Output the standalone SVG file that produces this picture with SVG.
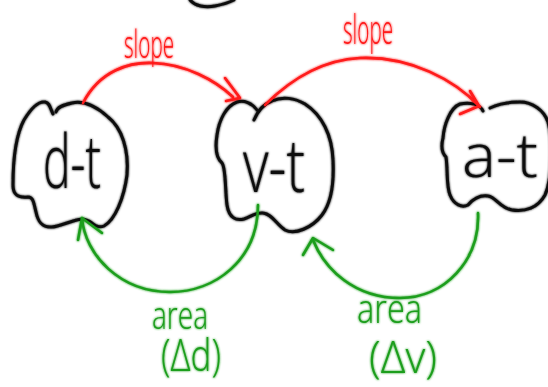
<svg xmlns="http://www.w3.org/2000/svg" width="548" height="387" viewBox="0 0 548 387">
  <defs>
    <!-- soft marker-pen edge -->
    <filter id="ink" x="-10%" y="-10%" width="120%" height="120%">
      <feGaussianBlur in="SourceGraphic" stdDeviation="1.1" result="b"/>
      <feMerge><feMergeNode in="b"/><feMergeNode in="SourceGraphic"/></feMerge>
    </filter>
  </defs>
  <style>
    .blob { fill: none; stroke: #111; stroke-width: 3; stroke-linecap: round; stroke-linejoin: round; }
    .red { fill: none; stroke: #ff1a1a; stroke-width: 2.6; stroke-linecap: round; stroke-linejoin: round; }
    .green { fill: none; stroke: #1f9e1f; stroke-width: 2.6; stroke-linecap: round; stroke-linejoin: round; }
    .lbl { font-family: "Open Sans", "DejaVu Sans", sans-serif; font-weight: 300; }
    .node-text { fill: #111; }
    .red-text { fill: #ff1a1a; }
    .green-text { fill: #1f9e1f; }
  </style>
  <rect width="548" height="387" fill="#fff"/>

  <g filter="url(#ink)">
    <!-- edge of a shape above the frame -->
    <g id="node-top">
      <path class="blob" d="M190,0 C195,6 205,8 215,6 C225,4 230,2 234,0"/>
    </g>

    <g id="node-dt">
      <path class="blob" d="M53,114 C50,108 50,103 45,102 C38,101 30,110 24,120 C16,135 13,160 13,185 C13,195 18,198 28,197 C34,197 34,205 36,212 C38,222 42,228 52,227 C62,226 72,220 82,219 C92,219 95,230 104,226 C115,220 124,198 127,175 C129,150 122,128 108,117 C98,108 85,100 72,103 C63,105 57,107 56,112"/>
      <text class="lbl node-text" x="43" y="188" font-size="74" textLength="58" lengthAdjust="spacingAndGlyphs">d-t</text>
    </g>

    <g id="node-vt">
      <path class="blob" d="M257,110 C252,103 244,100 237,102 C226,106 219,120 217,135 C215,148 216,158 222,163 C226,168 225,190 227,205 C229,218 236,221 244,219 C252,216 256,212 263,213 C272,214 276,224 285,230 C295,235 312,228 322,215 C332,202 334,180 333,160 C332,135 322,115 305,104 C295,98 282,96 272,101 C264,104 258,110 254,120"/>
      <text class="lbl node-text" x="243" y="192" font-size="74" textLength="62" lengthAdjust="spacingAndGlyphs">v-t</text>
    </g>

    <g id="node-at">
      <path class="blob" d="M483,111 C480,104 470,102 460,104 C450,108 444,125 443,138 C441,146 441,152 446,157 C448,170 446,185 450,195 C454,205 462,208 468,205 C474,198 480,195 488,196 C496,197 500,208 512,210 C525,212 538,208 545,195 C552,180 553,140 548,122 C544,110 532,102 520,102 C508,102 498,104 490,108"/>
      <text class="lbl node-text" x="462" y="177" font-size="60" textLength="76" lengthAdjust="spacingAndGlyphs">a-t</text>
    </g>

    <g id="connectors">
      <!-- d-t to v-t -->
      <path class="red" d="M83,103 C100,70 130,62 153,63 C185,64 215,80 233,97"/>
      <path class="red" d="M225,78 L240,98 L226,101"/>
      <text class="lbl red-text" x="124" y="58" font-size="38" textLength="50" lengthAdjust="spacingAndGlyphs">slope</text>

      <!-- v-t to a-t -->
      <path class="red" d="M265,105 C290,80 320,60 360,58 C410,56 455,80 480,107"/>
      <path class="red" d="M470,91 L479,106 L460,114"/>
      <text class="lbl red-text" x="343" y="44" font-size="40" textLength="50" lengthAdjust="spacingAndGlyphs">slope</text>

      <!-- v-t back to d-t -->
      <path class="green" d="M258,205 C258,260 215,292 170,292 C120,292 85,255 82,218"/>
      <path class="green" d="M78,240 L82,218 L102,233"/>
      <text class="lbl green-text" x="152" y="329" font-size="38" textLength="56" lengthAdjust="spacingAndGlyphs">area</text>
      <text class="lbl green-text" x="161" y="371" font-size="44" textLength="60" lengthAdjust="spacingAndGlyphs">(Δd)</text>

      <!-- a-t back to v-t -->
      <path class="green" d="M478,213 C480,260 445,298 400,298 C355,298 325,270 313,240"/>
      <path class="green" d="M303,255 L313,238 L333,250"/>
      <text class="lbl green-text" x="357" y="323" font-size="40" textLength="65" lengthAdjust="spacingAndGlyphs">area</text>
      <text class="lbl green-text" x="369" y="373" font-size="44" textLength="68" lengthAdjust="spacingAndGlyphs">(Δv)</text>
    </g>
  </g>
</svg>
